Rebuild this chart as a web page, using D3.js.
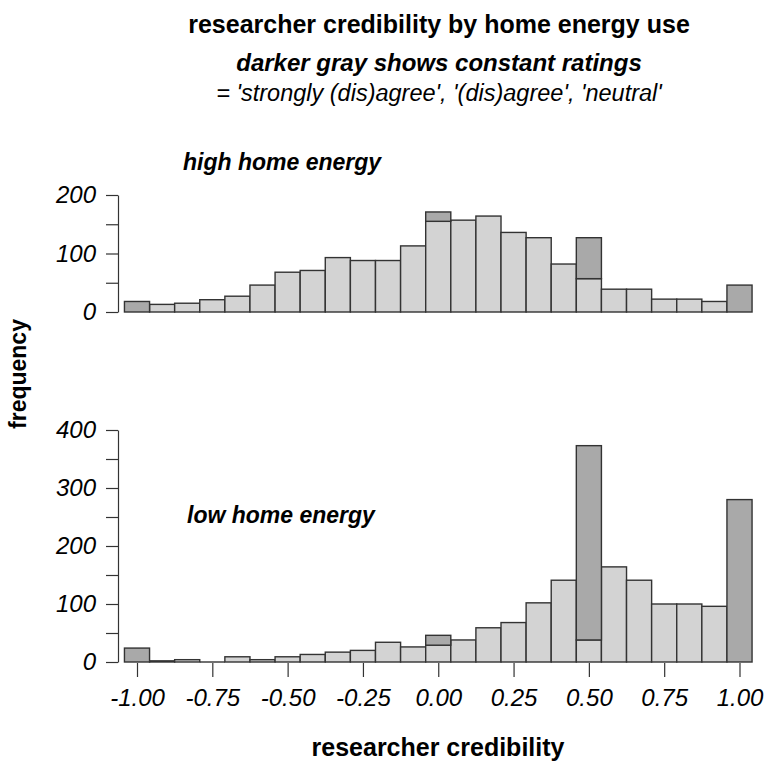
<!DOCTYPE html>
<html>
<head>
<meta charset="utf-8">
<script src="https://cdn.jsdelivr.net/npm/d3@7"></script>
<style>
  body { margin: 0; background: #fff; }
  text { font-family: "Liberation Sans", Arial, Helvetica, sans-serif; }
</style>
</head>
<body>
<div id="chart"></div>
<script>
// bins of width 1/12, centred on k/12
const binMid = [-12,-11,-10,-9,-8,-7,-6,-5,-4,-3,-2,-1,0,1,2,3,4,5,6,7,8,9,10,11,12].map(k => k / 12);

// high home energy : light = varying ratings, dark = constant ratings
const highLight = [0,13,15,21,27,46,68,71,93,88,88,113,155,157,164,136,127,82,57,39,39,22,22,18,0];
const highConst = [18,0,0,0,0,0,0,0,0,0,0,0,16,0,0,0,0,0,70,0,0,0,0,0,46];

// low home energy
const lowLight = [0,2,4,0,9,4,9,13,17,20,34,26,29,38,59,68,102,141,38,164,141,100,100,96,0];
const lowConst = [24,0,0,0,0,0,0,0,0,0,0,0,17,0,0,0,0,0,335,0,0,0,0,0,280];

const xTicks = [-1, -0.75, -0.5, -0.25, 0, 0.25, 0.5, 0.75, 1];
const xTickLabels = ["-1.00","-0.75","-0.50","-0.25","0.00","0.25","0.50","0.75","1.00"];

const width = 765, height = 762;
const lightGray = "#d3d3d3", darkGray = "#a9a9a9", edge = "#333";

const svg = d3.select("#chart").append("svg")
    .attr("width", width)
    .attr("height", height);

const x = d3.scaleLinear().domain([-1, 1]).range([137, 739.5]);
const half = 1 / 24;

const panels = [
  { label: "high home energy", light: highLight, dark: highConst,
    y: d3.scaleLinear().domain([0, 200]).range([312, 195]),
    ticks: [0, 50, 100, 150, 200], shown: [0, 100, 200],
    labelX: 183, labelY: 170 },
  { label: "low home energy", light: lowLight, dark: lowConst,
    y: d3.scaleLinear().domain([0, 400]).range([662, 430]),
    ticks: [0, 50, 100, 150, 200, 250, 300, 350, 400], shown: [0, 100, 200, 300, 400],
    labelX: 187, labelY: 523 }
];

panels.forEach(p => {
  const g = svg.append("g");
  const y = p.y;
  const bins = binMid.map((m, i) => ({ m, light: p.light[i], dark: p.dark[i] }));

  // empty bins still leave a flat line on the baseline
  g.selectAll("line.empty")
    .data(bins.filter(d => d.light + d.dark === 0))
    .enter().append("line")
    .attr("x1", d => x(d.m - half))
    .attr("x2", d => x(d.m + half))
    .attr("y1", y(0)).attr("y2", y(0))
    .attr("stroke", edge)
    .attr("stroke-width", 1.4);

  // light part (ratings that vary)
  g.selectAll("rect.light")
    .data(bins.filter(d => d.light > 0))
    .enter().append("rect")
    .attr("class", "light")
    .attr("x", d => x(d.m - half))
    .attr("width", d => x(d.m + half) - x(d.m - half))
    .attr("y", d => y(d.light))
    .attr("height", d => y(0) - y(d.light))
    .attr("fill", lightGray)
    .attr("stroke", edge)
    .attr("stroke-width", 1.4);

  // dark part stacked on top (constant ratings)
  g.selectAll("rect.dark")
    .data(bins.filter(d => d.dark > 0))
    .enter().append("rect")
    .attr("class", "dark")
    .attr("x", d => x(d.m - half))
    .attr("width", d => x(d.m + half) - x(d.m - half))
    .attr("y", d => y(d.light + d.dark))
    .attr("height", d => y(d.light) - y(d.light + d.dark))
    .attr("fill", darkGray)
    .attr("stroke", edge)
    .attr("stroke-width", 1.4);

  // y axis
  const ax = svg.append("g")
    .attr("transform", "translate(118,0)")
    .call(d3.axisLeft(y).tickValues(p.ticks).tickSize(12).tickSizeOuter(0).tickPadding(10)
      .tickFormat(d => p.shown.includes(d) ? d : ""));
  ax.selectAll("path, line").attr("stroke", edge).attr("stroke-width", 1.2);
  ax.selectAll("text")
    .attr("font-size", 24)
    .attr("font-style", "italic")
    .attr("fill", "#000")
    .style("font-family", "'Liberation Sans', Arial, sans-serif");

  svg.append("text")
    .attr("x", p.labelX)
    .attr("y", p.labelY)
    .attr("font-size", 23)
    .attr("font-weight", "bold")
    .attr("font-style", "italic")
    .text(p.label);
});

// x axis (ticks only)
const xa = svg.append("g")
  .attr("transform", "translate(0,663)")
  .call(d3.axisBottom(x).tickValues(xTicks).tickSize(14).tickPadding(12)
    .tickFormat((d, i) => xTickLabels[i]));
xa.select(".domain").remove();
xa.selectAll("line").attr("stroke", edge).attr("stroke-width", 1.2);
xa.selectAll("text")
  .attr("font-size", 24)
  .attr("font-style", "italic")
  .attr("fill", "#000")
  .style("font-family", "'Liberation Sans', Arial, sans-serif");

// titles
svg.append("text")
  .attr("x", 439).attr("y", 33)
  .attr("text-anchor", "middle")
  .attr("font-size", 25)
  .attr("font-weight", "bold")
  .text("researcher credibility by home energy use");

svg.append("text")
  .attr("x", 439).attr("y", 71)
  .attr("text-anchor", "middle")
  .attr("font-size", 24)
  .attr("font-weight", "bold")
  .attr("font-style", "italic")
  .text("darker gray shows constant ratings");

svg.append("text")
  .attr("x", 439).attr("y", 101)
  .attr("text-anchor", "middle")
  .attr("font-size", 23.5)
  .attr("font-style", "italic")
  .text("= 'strongly (dis)agree', '(dis)agree', 'neutral'");

// axis titles
svg.append("text")
  .attr("x", 438).attr("y", 756)
  .attr("text-anchor", "middle")
  .attr("font-size", 25)
  .attr("font-weight", "bold")
  .text("researcher credibility");

svg.append("text")
  .attr("transform", "translate(26,374) rotate(-90)")
  .attr("text-anchor", "middle")
  .attr("font-size", 23)
  .attr("font-weight", "bold")
  .text("frequency");
</script>
</body>
</html>
